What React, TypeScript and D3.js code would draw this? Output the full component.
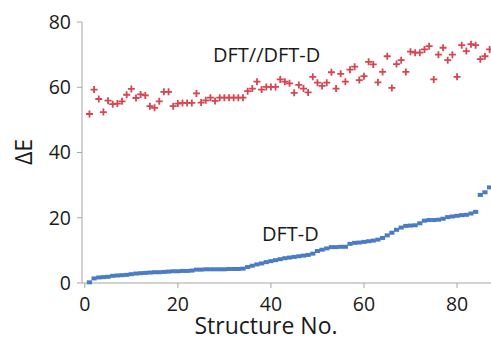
import React from "react";
import { scaleLinear, range } from "d3";

const width = 491;
const height = 338;

// DFT//DFT-D scatter, structure 1..87
const dftValues = [
  51.8, 59.3, 56.4, 52.4, 55.9, 54.8, 55.0, 55.7, 57.7, 59.5,
  56.7, 57.8, 57.5, 54.2, 53.7, 55.7, 58.6, 58.6, 54.2, 55.0,
  55.2, 55.2, 55.2, 58.1, 55.3, 56.0, 56.8, 55.8, 56.8, 56.8,
  56.8, 56.8, 56.8, 56.8, 58.8, 59.6, 61.7, 59.3, 60.1, 60.1,
  60.1, 62.4, 61.7, 61.2, 58.3, 60.7, 59.6, 58.4, 63.2, 61.4,
  60.4, 61.4, 64.6, 59.6, 64.1, 61.7, 65.4, 66.3, 62.2, 63.4,
  67.8, 67.0, 61.5, 64.7, 69.5, 59.8, 67.1, 68.3, 64.7, 70.9,
  70.6, 70.6, 71.6, 72.6, 62.4, 70.0, 72.1, 68.3, 70.0, 63.2,
  72.9, 71.1, 73.2, 72.9, 68.6, 69.5, 71.6,
];

// DFT-D, sorted ascending
const dftdValues = [
  0.2, 1.4, 1.7, 1.8, 1.9, 2.2, 2.3, 2.4, 2.5, 2.7,
  2.9, 3.0, 3.1, 3.2, 3.3, 3.3, 3.4, 3.5, 3.6, 3.6,
  3.7, 3.7, 3.8, 4.1, 4.1, 4.2, 4.2, 4.2, 4.2, 4.2,
  4.3, 4.3, 4.3, 4.4, 4.9, 5.3, 5.7, 6.0, 6.4, 6.7,
  7.0, 7.3, 7.6, 7.8, 8.0, 8.2, 8.4, 8.6, 9.0, 9.8,
  10.2, 10.6, 11.0, 11.0, 11.1, 11.1, 12.0, 12.3, 12.4, 12.6,
  12.8, 13.0, 13.3, 13.8, 14.6, 15.4, 16.3, 17.0, 17.5, 17.6,
  17.7, 18.3, 19.1, 19.3, 19.3, 19.4, 19.7, 20.2, 20.4, 20.6,
  20.8, 20.9, 21.3, 21.8, 27.0, 27.8, 29.3,
];

const xTicks = [0, 20, 40, 60, 80];
const yTicks = [0, 20, 40, 60, 80];

const red = "#d64550";
const blue = "#4a7cc6";
const axisColor = "#a6a6a6";
const textColor = "#1a1a1a";
const font = "'Open Sans', sans-serif";

const App = () => {
  const xScale = scaleLinear().domain([-0.6, 87.3]).range([82, width]);
  const yScale = scaleLinear().domain([0, 80]).range([283, 22]);
  const structures = range(1, dftValues.length + 1);

  return (
    <svg
      width={width}
      height={height}
      style={{ position: "absolute", left: 0, top: 0, background: "#fff" }}
      fontFamily={font}
    >
      {/* axes */}
      <line x1={82} y1={yScale(80)} x2={82} y2={yScale(0)} stroke={axisColor} />
      <line x1={82} y1={yScale(0)} x2={width} y2={yScale(0)} stroke={axisColor} />
      {yTicks.map((t) => (
        <g key={"y" + t}>
          <line x1={77} x2={82} y1={yScale(t)} y2={yScale(t)} stroke={axisColor} />
          <text
            x={71}
            y={yScale(t)}
            dy="0.35em"
            textAnchor="end"
            fontSize={19.5}
            fill={textColor}
          >
            {t}
          </text>
        </g>
      ))}
      {xTicks.map((t) => (
        <g key={"x" + t}>
          <line
            x1={xScale(t)}
            x2={xScale(t)}
            y1={yScale(0)}
            y2={yScale(0) + 5}
            stroke={axisColor}
          />
          <text
            x={xScale(t)}
            y={311}
            textAnchor="middle"
            fontSize={19.5}
            fill={textColor}
          >
            {t}
          </text>
        </g>
      ))}

      {/* DFT-D markers */}
      {structures.map((s, i) => (
        <rect
          key={"b" + s}
          x={xScale(s) - 2.6}
          y={yScale(dftdValues[i]) - 2}
          width={5.2}
          height={4}
          fill={blue}
        />
      ))}

      {/* DFT//DFT-D markers */}
      {structures.map((s, i) => {
        const cx = xScale(s);
        const cy = yScale(dftValues[i]);
        return (
          <path
            key={"r" + s}
            d={`M${cx - 3.5},${cy}H${cx + 3.5}M${cx},${cy - 3.5}V${cy + 3.5}`}
            stroke={red}
            strokeWidth={1.8}
            fill="none"
          />
        );
      })}

      {/* labels */}
      <text x={213} y={62} fontSize={20} fill={textColor}>
        DFT//DFT-D
      </text>
      <text x={262} y={241} fontSize={20} fill={textColor}>
        DFT-D
      </text>
      <text x={266} y={334} textAnchor="middle" fontSize={23} fill={textColor}>
        Structure No.
      </text>
      <text
        transform={`translate(32,152) rotate(-90)`}
        textAnchor="middle"
        fontSize={23}
        fill={textColor}
      >
        ΔE
      </text>
    </svg>
  );
};

export default App;
